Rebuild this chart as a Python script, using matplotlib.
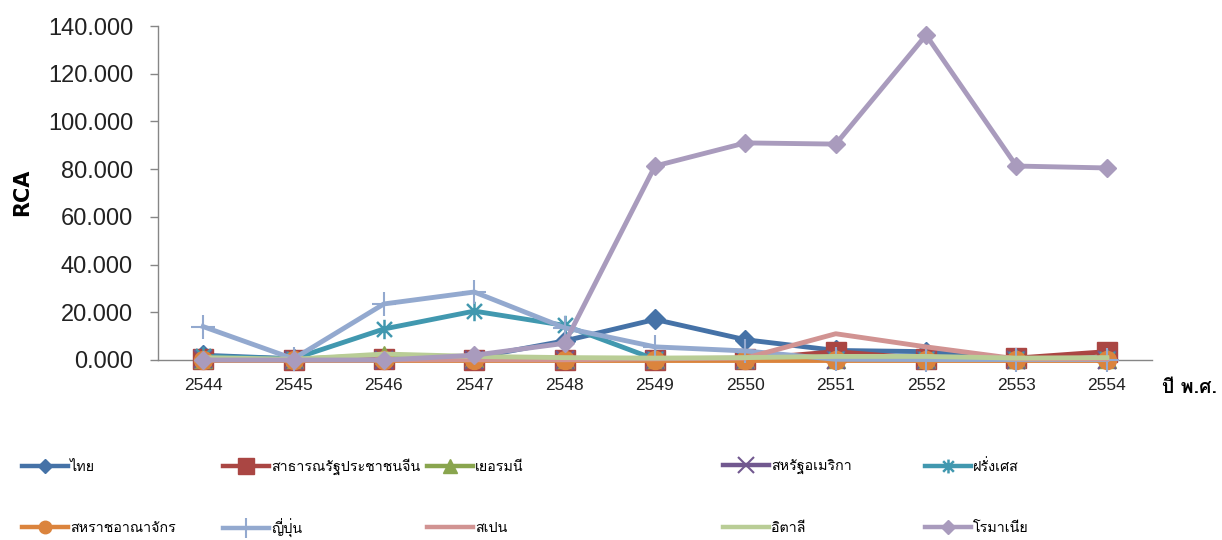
import matplotlib
matplotlib.use("Agg")
import matplotlib.pyplot as plt
from matplotlib import font_manager as fm
from matplotlib.lines import Line2D
from matplotlib.path import Path
from fontTools.ttLib import TTFont


def find_thai_font():
    # look for an installed family that has Thai glyphs
    prefer = ['thai', 'loma', 'tlwg', 'garuda', 'sarabun', 'tahoma', 'kinnari', 'norasi']
    entries = sorted(fm.fontManager.ttflist,
                     key=lambda f: 0 if any(p in f.name.lower() for p in prefer) else 1)
    for f in entries:
        try:
            tt = TTFont(f.fname, fontNumber=0, lazy=True)
            cmap = tt.getBestCmap()
            if cmap and 0x0E44 in cmap and 0x0E17 in cmap:
                return f.name
        except Exception:
            continue
    return 'DejaVu Sans'


thai_font = find_thai_font()
plt.rcParams['font.family'] = [thai_font, 'DejaVu Sans']

# RCA values
years = ['2544', '2545', '2546', '2547', '2548', '2549', '2550', '2551', '2552', '2553', '2554']
thailand = [2.0, 0.5, 0.5, 1.0, 8.0, 17.0, 8.5, 4.0, 3.5, 0.5, 1.0]
china = [0.3, 0.2, 0.3, 0.2, 0.2, 0.2, 0.3, 3.5, 0.5, 0.8, 3.5]
germany = [0.5, 0.3, 2.0, 1.0, 0.5, 0.3, 0.5, 0.5, 0.5, 0.3, 0.3]
usa = [0.3, 0.2, 0.2, 0.2, 0.2, 0.1, 0.2, 0.2, 0.2, 0.2, 0.2]
france = [1.5, 0.5, 13.0, 20.5, 14.5, 0.3, 0.3, 0.5, 0.5, 0.3, 0.5]
uk = [0.1, 0.1, 0.1, 0.1, 0.1, 0.1, 0.1, 0.1, 0.1, 0.1, 0.1]
japan = [14.0, 0.5, 23.5, 28.5, 13.5, 5.5, 3.8, 0.3, 0.2, 0.2, 0.2]
spain = [0.1, 0.1, 0.1, 0.1, 0.1, 0.5, 0.8, 11.0, 5.5, 0.5, 0.5]
italy = [1.0, 0.3, 2.5, 1.5, 1.0, 0.8, 1.0, 1.5, 1.5, 0.8, 1.0]
romania = [0.0, 0.0, 0.0, 2.0, 7.0, 81.3, 91.0, 90.5, 136.2, 81.3, 80.5]

names = ['ไทย', 'สาธารณรัฐประชาชนจีน', 'เยอรมนี', 'สหรัฐอเมริกา', 'ฝรั่งเศส',
         'สหราชอาณาจักร', 'ญี่ปุ่น', 'สเปน', 'อิตาลี', 'โรมาเนีย']
series = [thailand, china, germany, usa, france, uk, japan, spain, italy, romania]
colors = ['#4572A7', '#AA4643', '#89A54E', '#71588F', '#4198AF',
          '#DB843D', '#93A9CF', '#D19392', '#B9CD96', '#A99BBD']

# asterisk marker: X plus vertical bar
star = Path([(-1, -1), (1, 1), (-1, 1), (1, -1), (0, -1.3), (0, 1.3)],
            [Path.MOVETO, Path.LINETO, Path.MOVETO, Path.LINETO, Path.MOVETO, Path.LINETO])

markers = ['D', 's', '^', 'x', star, 'o', '+', None, None, 'D']
msizes = [10, 14, 13, 13, 14, 13, 17, 0, 0, 9.5]
mews = [1, 1, 1, 1.5, 1.8, 1, 1.5, 1, 1, 1]
leg_msizes = [7, 11, 10, 11, 10, 9, 15, 0, 0, 7]

fig = plt.figure(figsize=(12.22, 5.40), dpi=100)
ax = fig.add_axes([158 / 1222, 180 / 540, (1152 - 158) / 1222, 334 / 540])

x = list(range(len(years)))
handles = []
for i, (vals, name, c) in enumerate(zip(series, names, colors)):
    ax.plot(x, vals, color=c, lw=3.5, marker=markers[i], markersize=msizes[i],
            markeredgewidth=mews[i], markeredgecolor=c, markerfacecolor=c,
            clip_on=False, zorder=2 + i)
    handles.append(Line2D([0], [0], color=c, lw=3.2, marker=markers[i],
                          markersize=leg_msizes[i], markeredgewidth=mews[i],
                          markeredgecolor=c, markerfacecolor=c))

ax.set_xlim(-0.5, 10.5)
ax.set_ylim(0, 140)
ax.set_yticks(range(0, 141, 20))
ax.set_yticklabels([f'{v:.3f}' for v in range(0, 141, 20)], family='Liberation Sans',
                   fontsize=17, color='#222222')
ax.set_xticks(x)
ax.set_xticklabels(years, family='Liberation Sans', fontsize=12.5, color='#222222')
ax.tick_params(axis='x', length=0, pad=13)
ax.tick_params(axis='y', length=6, width=1, color='#868686', pad=12)
for s in ['top', 'right']:
    ax.spines[s].set_visible(False)
for s in ['left', 'bottom']:
    ax.spines[s].set_color('#868686')
    ax.spines[s].set_linewidth(1)

fig.text(22 / 1222, 1 - 192 / 540, 'RCA', rotation=90, ha='center', va='center',
         fontsize=15, fontweight='bold', family='DejaVu Sans')
fig.text(1190 / 1222, 1 - 388 / 540, 'ปี พ.ศ.', ha='center', va='center',
         fontsize=14, fontweight='bold')

# legend entries placed one by one, 5 columns x 2 rows
col_x = [22, 223, 427, 723, 925]
row_y = [467, 528]
for i, (h, name) in enumerate(zip(handles, names)):
    cx = col_x[i % 5]
    cy = row_y[i // 5]
    fig.legend(handles=[h], labels=[name], loc='center left',
               bbox_to_anchor=(cx / 1222, 1 - cy / 540), frameon=False,
               fontsize=10.3, handlelength=3.2, handletextpad=0.15,
               borderpad=0, borderaxespad=0)

fig.savefig('out.png', dpi=100)
